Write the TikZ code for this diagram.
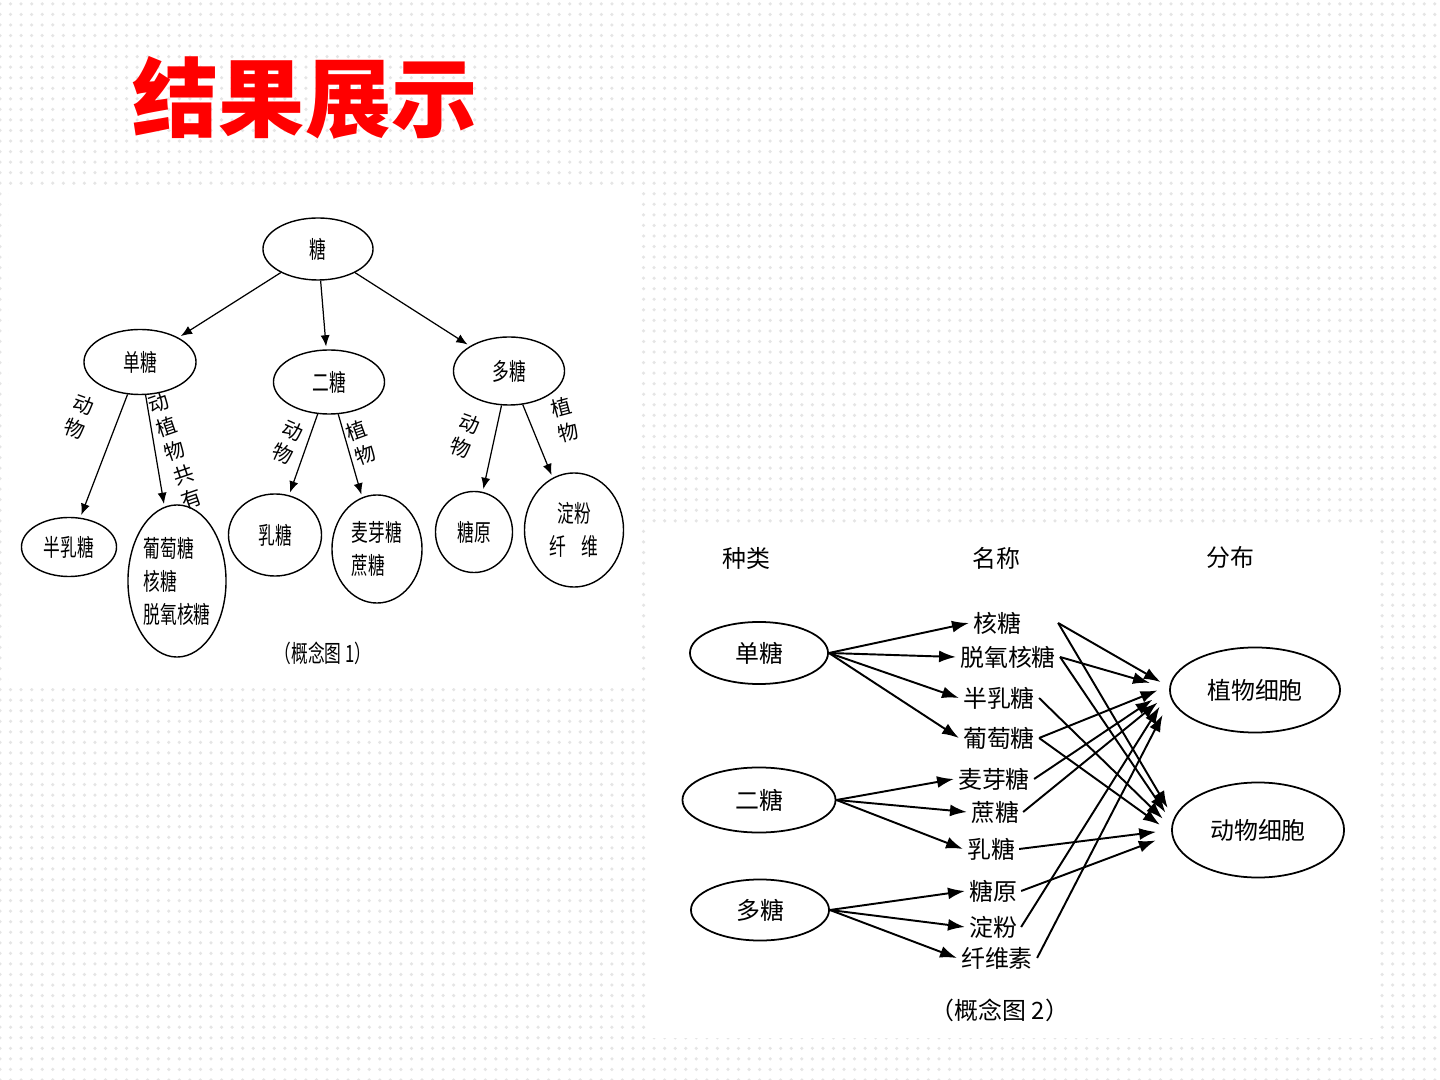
\documentclass[tikz,border=0pt]{standalone}
\usepackage{fontspec}
\usetikzlibrary{shapes,arrows.meta,patterns}
\newfontfamily\cjk{Noto Sans CJK SC}
\newfontfamily\cjknarrow[FakeStretch=0.7]{Noto Sans CJK SC}

\begin{document}
\begin{tikzpicture}[x=0.01cm,y=-0.01cm,
        lnode/.style={ellipse,draw,line width=0.4pt,inner sep=0pt,align=center,font=\cjknarrow\fontsize{6.8pt}{9.4pt}\selectfont},
        rnode/.style={ellipse,draw,line width=0.5pt,inner sep=0pt,font=\cjk\fontsize{6.8pt}{8pt}\selectfont},
        edgelab/.style={inner sep=0pt,align=center,font=\cjk\fontsize{5.8pt}{7.2pt}\selectfont},
        itemtext/.style={inner sep=1pt,font=\cjk\fontsize{6.8pt}{8pt}\selectfont},
        larrow/.style={-{Latex[length=3.2pt,width=2.6pt]},line width=0.35pt,shorten >=0.8pt},
        rarrow/.style={-{Latex[length=4.8pt,width=3.4pt]},line width=0.55pt}]
        % 背景
        \useasboundingbox (0,0) rectangle (1440,1080);
        \fill[white] (0,0) rectangle (1440,1080);
        \fill[pattern=dots,pattern color=black!10] (0,0) rectangle (1440,1080);
        \fill[white] (9,192) rectangle (640,688);
        \fill[white] (650,523) rectangle (1378,1038);
        
        % 标题
        \node[font=\cjk\bfseries\fontsize{24.5pt}{26pt}\selectfont,text=red,inner sep=0pt] (title) at (305,98) {结果展示};
        
        % 概念图1的节点
        \node[lnode,minimum width=1.10cm,minimum height=0.62cm] (tang) at (318,249) {糖};
        \node[lnode,minimum width=1.12cm,minimum height=0.65cm] (dan) at (140,362) {单糖};
        \node[lnode,minimum width=1.11cm,minimum height=0.64cm] (er) at (329,382) {二糖};
        \node[lnode,minimum width=1.11cm,minimum height=0.68cm] (duo) at (509,371) {多糖};
        \node[lnode,minimum width=0.95cm,minimum height=0.59cm] (banru) at (69,547) {半乳糖};
        \node[lnode,minimum width=0.98cm,minimum height=1.52cm,align=left] (putao) at (177,581) {葡萄糖\\核糖\\脱氧核糖};
        \node[lnode,minimum width=0.93cm,minimum height=0.82cm] (rutang) at (275,535) {乳糖};
        \node[lnode,minimum width=0.90cm,minimum height=1.08cm,align=left] (maiya) at (377,549) {麦芽糖\\蔗糖};
        \node[lnode,minimum width=0.77cm,minimum height=0.81cm] (tangyuan) at (474,532) {糖原};
        \node[lnode,minimum width=0.99cm,minimum height=1.14cm] (dianfen) at (574,530) {淀粉\\纤\hspace{4.5pt}维};
        \node[font=\cjknarrow\fontsize{6.8pt}{8pt}\selectfont] (cap1) at (323,653) {（概念图 1）};
        
        % 概念图1的连接线
        \draw[larrow] (tang) -- (dan);
        \draw[larrow] (tang) -- (er);
        \draw[larrow] (tang) -- (duo);
        \draw[larrow] (dan) -- (banru);
        \draw[larrow] (dan) -- (putao);
        \draw[larrow] (er) -- (rutang);
        \draw[larrow] (er) -- (maiya);
        \draw[larrow] (duo) -- (tangyuan);
        \draw[larrow] (duo) -- (dianfen);
        
        % 连接线上的文字
        \node[edgelab,rotate=-20] (lab1) at (79,417) {动\\物};
        \node[edgelab,rotate=19] (lab2) at (175,451) {动\\植\\物\\共\\有};
        \node[edgelab,rotate=-24] (lab3) at (288,442) {动\\物};
        \node[edgelab,rotate=20] (lab4) at (361,443) {植\\物};
        \node[edgelab,rotate=-20] (lab5) at (465,436) {动\\物};
        \node[edgelab,rotate=15] (lab6) at (565,420) {植\\物};
        
        % 概念图2的表头
        \node[itemtext] (zhonglei) at (746,558) {种类};
        \node[itemtext] (mingcheng) at (996,558) {名称};
        \node[itemtext] (fenbu) at (1230,557) {分布};
        
        % 概念图2的节点
        \node[rnode,minimum width=1.38cm,minimum height=0.62cm] (dan2) at (759,653) {单糖};
        \node[rnode,minimum width=1.53cm,minimum height=0.65cm] (er2) at (759,800) {二糖};
        \node[rnode,minimum width=1.38cm,minimum height=0.61cm] (duo2) at (760,910) {多糖};
        \node[rnode,minimum width=1.70cm,minimum height=0.85cm] (zhiwu) at (1255,690) {植物细胞};
        \node[rnode,minimum width=1.72cm,minimum height=0.95cm] (dongwu) at (1258,830) {动物细胞};
        
        \node[itemtext] (hetang) at (997,623) {核糖};
        \node[itemtext] (tuoyang) at (1008,657) {脱氧核糖};
        \node[itemtext] (banrut) at (999,698) {半乳糖};
        \node[itemtext] (putaot) at (999,738) {葡萄糖};
        \node[itemtext] (maiyat) at (994,779) {麦芽糖};
        \node[itemtext] (zhetang) at (995,812) {蔗糖};
        \node[itemtext] (rut) at (991,849) {乳糖};
        \node[itemtext] (tangyuant) at (993,891) {糖原};
        \node[itemtext] (dianfent) at (993,927) {淀粉};
        \node[itemtext] (xianwei) at (997,958) {纤维素};
        \coordinate (hetangout) at ([xshift=0.33cm]hetang.east);
        \node[itemtext] (cap2) at (1000,1010) {（概念图 2）};
        
        % 种类到名称
        \draw[rarrow] (dan2.east) -- (hetang.west);
        \draw[rarrow] (dan2.east) -- (tuoyang.west);
        \draw[rarrow] (dan2.east) -- (banrut.west);
        \draw[rarrow] (dan2.east) -- (putaot.west);
        \draw[rarrow] (er2.east) -- (maiyat.west);
        \draw[rarrow] (er2.east) -- (zhetang.west);
        \draw[rarrow] (er2.east) -- (rut.west);
        \draw[rarrow] (duo2.east) -- (tangyuant.west);
        \draw[rarrow] (duo2.east) -- (dianfent.west);
        \draw[rarrow] (duo2.east) -- (xianwei.west);
        
        % 名称到植物细胞
        \draw[rarrow,shorten >=2.8pt] (hetangout) -- (zhiwu.178);
        \draw[rarrow,shorten >=5.7pt] (tuoyang.east) -- (zhiwu.179);
        \draw[rarrow,shorten >=3.7pt] (putaot.east) -- (zhiwu.177);
        \draw[rarrow,shorten >=5.7pt] (maiyat.east) -- (zhiwu.179);
        \draw[rarrow,shorten >=4.3pt] (zhetang.east) -- (zhiwu.182);
        \draw[rarrow,shorten >=5.1pt] (dianfent.east) -- (zhiwu.181);
        \draw[rarrow,shorten >=5.1pt] (xianwei.east) -- (zhiwu.186);
        
        % 名称到动物细胞
        \draw[rarrow,shorten >=3.4pt] (hetangout) -- (dongwu.172);
        \draw[rarrow,shorten >=3.4pt] (tuoyang.east) -- (dongwu.175);
        \draw[rarrow,shorten >=3.4pt] (banrut.east) -- (dongwu.178);
        \draw[rarrow,shorten >=4pt] (putaot.east) -- (dongwu.182);
        \draw[rarrow,shorten >=4.3pt] (rut.east) -- (dongwu.180);
        \draw[rarrow,shorten >=4.8pt] (tangyuant.east) -- (dongwu.183);
    \end{tikzpicture}
\end{document}
